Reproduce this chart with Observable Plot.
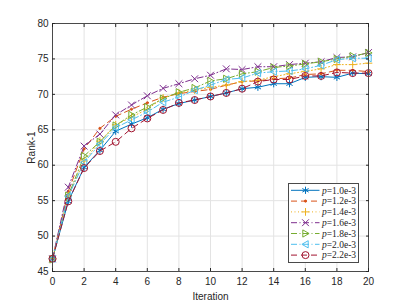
<!DOCTYPE html>
<html><head><meta charset="utf-8">
<script src="https://cdn.jsdelivr.net/npm/d3@7"></script>
<script src="https://cdn.jsdelivr.net/npm/@observablehq/plot@0.6"></script>
<style>
body{margin:0;background:#fff;}
#chart{position:relative;width:407px;height:305px;}
#legend{position:absolute;left:288px;top:183px;}
</style></head><body><div id="chart"></div>
<script>
const iterations = [0,1,2,3,4,5,6,7,8,9,10,11,12,13,14,15,16,17,18,19,20];
const seriesNames = ["1.0e-3","1.2e-3","1.4e-3","1.6e-3","1.8e-3","2.0e-3","2.2e-3"];
const p10 = [46.8,54.9,59.7,62.1,64.8,65.8,66.7,67.9,68.7,69.2,69.7,70.2,70.8,71.0,71.5,71.5,72.4,72.5,72.4,73.0,72.9];
const p12 = [46.8,56.3,62.3,65.2,66.9,67.9,68.8,69.6,70.1,70.4,70.7,71.3,71.8,71.9,72.2,72.3,72.8,72.9,73.4,73.4,73.2];
const p14 = [46.8,55.7,60.6,63.4,65.7,66.8,67.9,69.5,70.2,70.6,71.0,71.3,71.8,72.0,72.5,72.9,73.25,73.6,74.2,74.2,74.4];
const p16 = [46.8,56.9,62.7,64.4,67.1,68.5,69.8,70.85,71.5,72.2,72.7,73.6,73.5,73.9,73.9,74.2,74.4,74.6,75.2,75.3,75.9];
const p18 = [46.7,55.7,61.3,63.3,65.6,67.1,68.2,69.4,70.3,70.9,71.9,72.2,72.9,73.2,73.8,74.0,74.3,74.6,75.0,75.4,75.85];
const p20 = [46.8,55.6,60.4,63.0,65.3,66.4,67.5,68.9,69.6,70.6,71.3,72.1,72.3,73.0,73.2,73.3,73.6,74.1,74.9,75.1,75.1];
const p22 = [46.8,54.9,59.6,62.0,63.3,65.2,66.6,67.8,68.8,69.2,69.7,70.2,70.8,71.8,72.1,72.1,72.6,72.6,73.1,73.0,73.0];
const xTicks = [0,2,4,6,8,10,12,14,16,18,20];
const yTicks = [45,50,55,60,65,70,75,80];

const seriesValues = [p10,p12,p14,p16,p18,p20,p22];
const colors = ["#0072BD","#D95319","#EDB120","#7E2F8E","#77AC30","#4DBEEE","#A2142F"];
const dashes = [null,"6,4","1,2.5","6,2.5,1,2.5","6,2.5,1,2.5","6,2.5,1,2.5","6,4"];

const triRight = {draw(ctx, size){const r=Math.sqrt(size/Math.PI); ctx.moveTo(r,0); ctx.lineTo(-r*0.75,-r); ctx.lineTo(-r*0.75,r); ctx.closePath();}};
const triLeft = {draw(ctx, size){const r=Math.sqrt(size/Math.PI); ctx.moveTo(-r,0); ctx.lineTo(r*0.75,-r); ctx.lineTo(r*0.75,r); ctx.closePath();}};
const markers = [
  {symbol:"asterisk", r:3.4, fill:"none"},
  {symbol:"circle", r:1.1, fill:"currentColor"},
  {symbol:"plus", r:2.6, fill:"none"},
  {symbol:"times", r:3.2, fill:"none"},
  {symbol:triRight, r:3.6, fill:"none"},
  {symbol:triLeft, r:3.6, fill:"none"},
  {symbol:"circle", r:3.5, fill:"none"}
];

const marks = [
  Plot.gridX({ticks:xTicks, stroke:"#e3e3e3", strokeOpacity:1}),
  Plot.gridY({ticks:yTicks, stroke:"#e3e3e3", strokeOpacity:1}),
];
seriesValues.forEach((vals,i)=>{
  const data = iterations.map((it,j)=>({iteration:it, value:vals[j]}));
  marks.push(Plot.line(data,{x:"iteration", y:"value", stroke:colors[i], strokeWidth:1, strokeDasharray:dashes[i]}));
  const m = markers[i];
  marks.push(Plot.dot(data,{x:"iteration", y:"value", symbol:m.symbol, r:m.r, stroke:colors[i], strokeWidth:1,
    fill: m.fill==="none" ? "none" : colors[i]}));
});
marks.push(
  Plot.frame({stroke:"#4a4a4a", strokeWidth:1}),
  Plot.axisX({anchor:"bottom", ticks:xTicks, tickSize:-3, tickPadding:9, label:"Iteration", labelAnchor:"center", labelOffset:28, labelArrow:"none"}),
  Plot.axisX({anchor:"top", ticks:xTicks, tickSize:-3, tickFormat:()=>"", label:null}),
  Plot.axisY({anchor:"left", ticks:yTicks, tickSize:-3, tickPadding:7, label:"Rank-1", labelAnchor:"center", labelOffset:25, labelArrow:"none"}),
  Plot.axisY({anchor:"right", ticks:yTicks, tickSize:-3, tickFormat:()=>"", label:null})
);

const chart = Plot.plot({
  width:407, height:305,
  marginLeft:52, marginRight:39, marginTop:23, marginBottom:34,
  x:{domain:[0,20]},
  y:{domain:[45,80]},
  style:{fontFamily:"'Liberation Sans', Arial, sans-serif", fontSize:"10px", color:"#262626", background:"#fff"},
  marks
});
document.getElementById("chart").appendChild(chart);

// legend
const lg = d3.select("#chart").append("svg").attr("id","legend").attr("width",72).attr("height",81);
lg.append("rect").attr("x",0.5).attr("y",0.5).attr("width",70).attr("height",79).attr("fill","#fff").attr("stroke","#4a4a4a");
seriesNames.forEach((name,k)=>{
  const y = 7.3 + k*10.8;
  const g = lg.append("g");
  g.append("line").attr("x1",3).attr("x2",31.5).attr("y1",y).attr("y2",y).attr("stroke",colors[k]).attr("stroke-width",1).attr("stroke-dasharray",dashes[k]);
  const m = markers[k];
  const sym = typeof m.symbol === "string" ? ({asterisk:d3.symbolAsterisk, circle:d3.symbolCircle, plus:d3.symbolPlus, times:d3.symbolTimes})[m.symbol] : m.symbol;
  g.append("path").attr("d", d3.symbol(sym, Math.PI*m.r*m.r)()).attr("transform",`translate(17.5,${y})`)
    .attr("fill", m.fill==="none"?"none":colors[k]).attr("stroke",colors[k]).attr("stroke-width",1);
  const t = g.append("text").attr("x",34).attr("y",y).attr("dy","0.35em").attr("font-family","'Liberation Serif', 'Times New Roman', serif").attr("font-size","9.5px").attr("fill","#262626");
  t.append("tspan").attr("font-style","italic").text("p");
  t.append("tspan").text("=" + name);
});
</script>
</body></html>
